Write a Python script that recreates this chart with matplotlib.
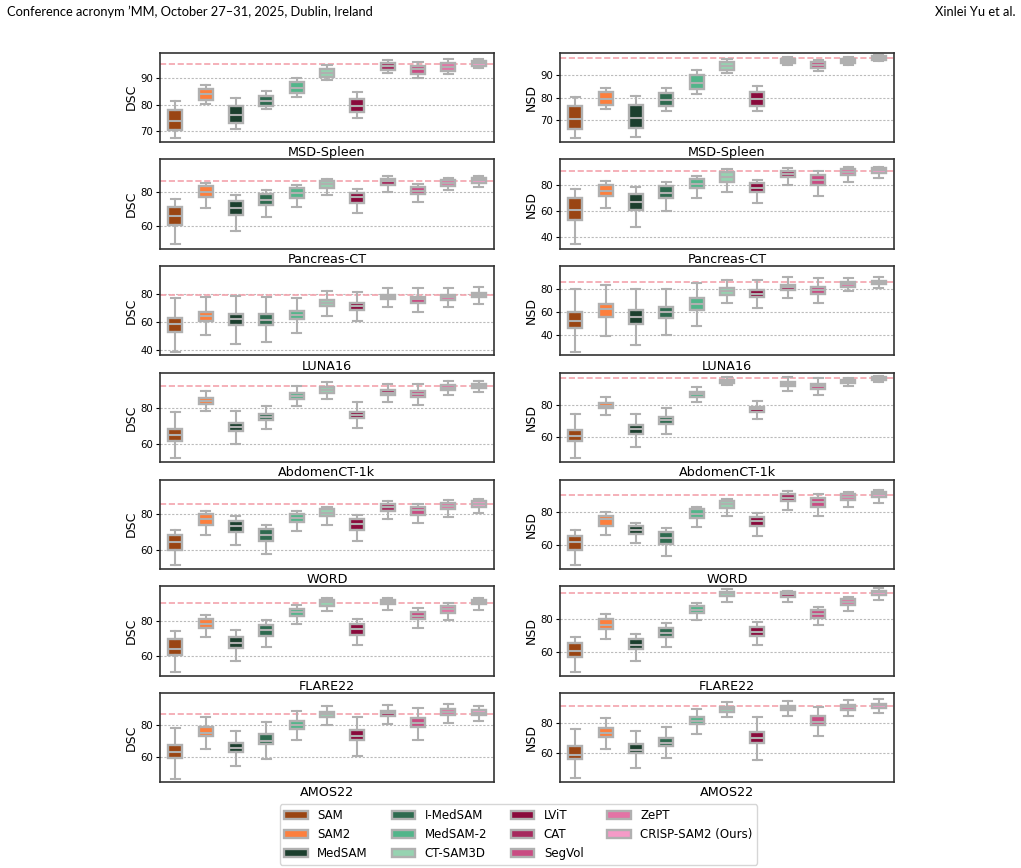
import matplotlib
matplotlib.use("Agg")
import matplotlib.pyplot as plt
from matplotlib.patches import Patch

# Methods and colours, left to right in every panel
METHODS = ["SAM", "SAM2", "MedSAM", "I-MedSAM", "MedSAM-2", "CT-SAM3D",
           "LViT", "CAT", "SegVol", "ZePT", "CRISP-SAM2 (Ours)"]
COLORS = ["#9a4513", "#fd7f3d", "#1c3f2e", "#2e6a4f", "#52b58a", "#96d3b1",
          "#8a0a3c", "#a62a5e", "#c94b82", "#e373a5", "#f59ac7"]

DATASETS = ["MSD-Spleen", "Pancreas-CT", "LUNA16", "AbdomenCT-1k", "WORD", "FLARE22", "AMOS22"]

# Box statistics per method: (whisker low, q1, median, q3, whisker high)
DSC_SPLEEN = [(67.6, 70.5, 74.0, 78.2, 81.4), (80.4, 81.8, 84.0, 86.0, 87.5),
              (70.8, 73.3, 76.0, 79.7, 82.5), (78.3, 79.7, 81.6, 83.5, 85.2),
              (83.1, 84.6, 86.5, 88.5, 90.3), (89.4, 90.5, 92.0, 93.6, 94.9),
              (75.0, 77.2, 79.6, 82.3, 84.7), (92.0, 93.3, 94.5, 95.7, 97.0),
              (90.1, 91.5, 93.4, 94.8, 96.2), (91.5, 92.6, 94.4, 95.9, 97.3),
              (93.9, 94.7, 95.7, 96.7, 97.3)]
DSC_PANCREAS = [(49.0, 60.8, 65.7, 71.6, 76.0), (71.0, 77.3, 80.4, 83.7, 85.7),
                (57.3, 66.7, 70.6, 75.1, 78.2), (65.3, 72.4, 75.3, 79.0, 81.6),
                (71.2, 76.9, 79.4, 82.7, 84.5), (78.4, 82.9, 84.9, 86.7, 88.0),
                (67.5, 73.9, 77.1, 79.6, 82.2), (80.4, 84.5, 86.7, 88.2, 89.6),
                (74.3, 78.8, 81.0, 83.3, 84.9), (81.2, 84.1, 85.9, 87.3, 88.6),
                (83.1, 85.7, 87.5, 88.6, 89.6)]
DSC_LUNA = [(38.3, 52.6, 58.3, 62.6, 76.7), (50.5, 60.7, 64.3, 67.1, 77.4),
            (44.3, 57.9, 62.4, 66.0, 78.8), (45.5, 57.9, 61.7, 65.5, 77.4),
            (52.1, 61.9, 64.8, 67.6, 76.9), (64.3, 71.0, 73.3, 75.5, 81.9),
            (60.7, 68.6, 71.0, 73.3, 81.4), (70.5, 76.0, 77.6, 79.3, 84.5),
            (67.1, 73.6, 76.0, 77.9, 84.0), (70.5, 75.7, 77.6, 79.5, 84.5),
            (72.6, 77.4, 79.3, 80.7, 85.0)]
DSC_ABDOMEN = [(51.8, 61.7, 64.9, 68.2, 77.6), (78.3, 82.4, 84.1, 85.6, 89.7),
               (60.0, 66.9, 69.3, 71.6, 78.3), (68.0, 73.3, 75.0, 76.6, 81.3),
               (81.3, 85.2, 86.7, 88.4, 92.3), (85.2, 88.6, 90.1, 91.6, 94.6),
               (68.8, 74.2, 76.3, 77.9, 83.2), (83.4, 87.1, 88.6, 89.9, 93.5),
               (81.9, 86.4, 88.0, 89.5, 93.5), (87.1, 90.1, 91.4, 92.7, 95.3),
               (89.2, 91.2, 92.3, 93.3, 95.1)]
DSC_WORD = [(51.3, 60.0, 64.5, 68.1, 71.3), (68.3, 74.3, 77.4, 80.0, 82.1),
            (62.6, 70.0, 73.2, 76.2, 78.9), (57.5, 65.1, 68.5, 71.9, 74.2),
            (70.6, 75.7, 78.1, 80.2, 82.1), (74.2, 78.9, 80.8, 82.8, 84.3),
            (64.9, 71.3, 74.5, 77.2, 79.4), (77.2, 81.7, 84.0, 85.8, 87.7),
            (74.9, 79.8, 82.5, 84.3, 85.8), (78.7, 82.8, 84.7, 86.6, 88.1),
            (80.6, 84.2, 86.0, 87.5, 88.7)]
DSC_FLARE = [(50.4, 60.2, 63.8, 69.4, 73.8), (70.4, 75.6, 78.1, 81.0, 83.3),
             (56.7, 64.4, 67.3, 70.8, 74.4), (64.8, 71.5, 74.8, 77.3, 80.4),
             (78.3, 82.9, 85.0, 86.7, 89.0), (85.4, 88.7, 90.6, 91.7, 93.1),
             (66.0, 71.7, 75.0, 77.9, 81.0), (86.3, 89.6, 91.0, 91.9, 93.1),
             (75.6, 80.8, 82.9, 85.2, 87.3), (80.4, 84.6, 86.7, 88.3, 90.4),
             (86.3, 89.4, 90.8, 91.7, 92.9)]
DSC_AMOS = [(46.8, 59.6, 63.1, 67.8, 78.4), (65.2, 73.0, 75.1, 78.6, 85.2),
            (54.6, 63.3, 65.6, 68.9, 76.1), (59.0, 68.2, 70.3, 74.2, 82.1),
            (70.7, 77.7, 80.2, 82.7, 88.7), (80.2, 84.9, 86.6, 88.0, 91.8),
            (61.0, 70.7, 73.2, 77.1, 84.7), (80.8, 85.8, 87.4, 88.9, 92.4),
            (70.5, 78.6, 81.0, 84.1, 90.5), (81.4, 86.4, 88.2, 89.7, 93.2),
            (82.5, 86.0, 87.6, 89.1, 92.0)]

NSD_SPLEEN = [(62.4, 66.2, 70.7, 76.3, 80.4), (74.8, 76.6, 79.2, 82.3, 84.3),
              (62.8, 66.5, 71.2, 76.6, 80.7), (73.9, 76.3, 78.8, 82.1, 84.3),
              (81.5, 83.7, 86.5, 89.9, 91.9), (90.9, 92.2, 93.8, 95.5, 96.9),
              (73.9, 76.3, 79.2, 82.4, 85.2), (94.4, 95.1, 96.1, 97.0, 97.6),
              (91.6, 92.8, 94.4, 95.5, 96.7), (94.1, 95.0, 96.1, 97.0, 97.7),
              (96.0, 96.7, 97.4, 98.2, 98.6)]
NSD_PANCREAS = [(35.0, 53.2, 60.8, 70.1, 76.7), (62.3, 71.9, 75.4, 80.5, 83.5),
                (47.8, 61.3, 66.8, 73.4, 78.5), (60.0, 70.1, 74.2, 79.5, 82.8),
                (69.9, 77.5, 81.0, 84.6, 87.3), (74.9, 82.5, 86.6, 89.9, 92.7),
                (66.6, 74.4, 77.5, 81.3, 84.3), (80.3, 86.3, 88.6, 91.1, 93.4),
                (71.9, 80.5, 83.8, 88.1, 91.1), (82.8, 87.6, 89.9, 92.2, 93.9),
                (85.3, 89.1, 91.4, 92.9, 94.2)]
NSD_LUNA = [(25.0, 45.5, 51.6, 59.5, 79.7), (39.4, 55.7, 62.7, 67.1, 83.2),
            (31.2, 49.0, 55.7, 61.6, 79.4), (40.2, 54.9, 59.5, 64.5, 79.4),
            (47.5, 61.6, 66.8, 71.8, 85.3), (67.4, 74.7, 77.7, 80.6, 87.6),
            (63.6, 72.7, 75.9, 78.8, 87.3), (72.1, 78.8, 81.5, 83.5, 89.9),
            (67.4, 75.9, 78.8, 81.5, 89.6), (77.7, 82.0, 83.8, 85.6, 89.6),
            (80.6, 83.8, 85.3, 87.0, 90.2)]
NSD_ABDOMEN = [(46.8, 57.5, 60.8, 64.5, 74.2), (73.6, 77.7, 79.2, 80.8, 84.5),
               (53.8, 61.9, 64.7, 67.2, 74.4), (62.1, 68.2, 70.5, 72.4, 77.7),
               (81.4, 84.9, 86.4, 87.8, 90.9), (92.0, 93.6, 94.4, 95.3, 96.9),
               (71.3, 75.7, 77.1, 78.6, 82.5), (88.2, 91.3, 92.8, 94.0, 96.9),
               (85.8, 89.9, 91.3, 92.8, 96.5), (91.5, 93.4, 94.2, 95.1, 96.5),
               (94.2, 95.5, 96.3, 96.9, 97.7)]
NSD_WORD = [(47.7, 56.8, 61.4, 65.3, 68.7), (65.7, 71.7, 75.4, 77.8, 79.8),
            (61.0, 66.7, 68.9, 71.5, 73.5), (52.9, 60.2, 64.4, 67.7, 70.1),
            (70.7, 76.2, 78.8, 81.6, 83.2), (77.4, 82.2, 84.6, 86.5, 87.9),
            (65.1, 71.5, 74.5, 77.2, 79.6), (81.0, 86.5, 88.7, 90.7, 92.9),
            (77.4, 83.2, 85.9, 88.7, 90.9), (83.0, 87.3, 89.3, 90.9, 92.3),
            (85.7, 88.9, 90.7, 91.9, 93.1)]
NSD_FLARE = [(47.8, 56.9, 60.6, 65.3, 69.0), (68.0, 74.1, 76.5, 80.0, 82.9),
             (54.1, 61.4, 64.1, 67.8, 70.8), (63.1, 69.2, 71.2, 74.7, 77.3),
             (79.4, 83.7, 85.5, 87.6, 89.6), (90.4, 93.7, 95.5, 96.5, 98.0),
             (63.9, 69.6, 72.0, 75.1, 77.8), (90.0, 93.5, 94.9, 96.1, 97.1),
             (76.1, 80.6, 82.7, 85.3, 87.3), (84.7, 88.6, 90.4, 91.8, 93.5),
             (91.4, 94.5, 96.1, 97.1, 98.6)]
NSD_AMOS = [(42.9, 55.8, 58.2, 64.4, 75.6), (62.4, 70.7, 73.1, 76.7, 83.3),
            (49.6, 59.8, 61.6, 66.0, 74.4), (56.7, 64.2, 66.7, 70.0, 76.9),
            (72.7, 78.9, 80.9, 83.8, 89.3), (83.8, 87.3, 89.3, 90.7, 93.8),
            (55.3, 66.2, 69.6, 74.0, 83.6), (84.4, 88.4, 89.8, 91.1, 94.4),
            (71.3, 78.7, 80.7, 84.2, 90.7), (84.2, 88.2, 90.2, 91.8, 94.9),
            (86.4, 90.0, 91.6, 92.7, 95.6)]

DSC_ALL = [DSC_SPLEEN, DSC_PANCREAS, DSC_LUNA, DSC_ABDOMEN, DSC_WORD, DSC_FLARE, DSC_AMOS]
NSD_ALL = [NSD_SPLEEN, NSD_PANCREAS, NSD_LUNA, NSD_ABDOMEN, NSD_WORD, NSD_FLARE, NSD_AMOS]

# dashed reference line (ours) per dataset
DSC_REF = [95.4, 87.1, 79.3, 92.3, 85.8, 90.4, 87.0]
NSD_REF = [97.2, 90.6, 85.6, 96.3, 90.5, 95.7, 90.9]

DSC_YMIN = [66.0, 46.5, 36.2, 49.7, 49.2, 48.5, 44.5]
NSD_YMIN = [60.5, 31.4, 22.1, 44.5, 45.3, 45.5, 40.2]
DSC_TICKS = [[70, 80, 90], [60, 80], [40, 60, 80], [60, 80], [60, 80], [60, 80], [60, 80]]
NSD_TICKS = [[70, 80, 90], [40, 60, 80], [40, 60, 80], [60, 80], [60, 80], [60, 80], [60, 80]]

EDGE = "#b0b0b0"


def draw_panel(ax, boxes, ref, ymin, ticks, metric, name):
    stats = [{"whislo": b[0], "q1": b[1], "med": b[2], "q3": b[3], "whishi": b[4], "fliers": []}
             for b in boxes]
    arts = ax.bxp(stats, positions=range(len(stats)), widths=0.46, capwidths=0.3,
                  patch_artist=True, showfliers=False,
                  boxprops=dict(edgecolor=EDGE, linewidth=1.7),
                  medianprops=dict(color=EDGE, linewidth=1.5),
                  whiskerprops=dict(color=EDGE, linewidth=1.5),
                  capprops=dict(color=EDGE, linewidth=1.5))
    for patch, c in zip(arts["boxes"], COLORS):
        patch.set_facecolor(c)
    ax.axhline(ref, color="#f4a3ad", linestyle="--", linewidth=1.2, zorder=1)
    ax.set_axisbelow(True)
    ax.yaxis.grid(True, linestyle=(0, (2, 1.5)), color="#bbbbbb", linewidth=0.8)
    ax.set_xlim(-0.5, len(stats) - 0.5)
    ax.set_ylim(ymin, 99.7)
    ax.set_xticks([])
    ax.set_yticks(ticks)
    ax.tick_params(axis="y", labelsize=7.3, length=3, width=0.8, pad=2)
    ax.set_ylabel(metric, fontsize=9, labelpad=2)
    ax.set_xlabel(name, fontsize=9.2, labelpad=3)
    for s in ax.spines.values():
        s.set_color("#333333")
        s.set_linewidth(1.2)


fig, axes = plt.subplots(7, 2, figsize=(10.21, 8.68), dpi=100)
fig.subplots_adjust(left=0.1567, right=0.8756, top=0.9393, bottom=0.0987,
                    wspace=0.198, hspace=0.196)

for i, name in enumerate(DATASETS):
    draw_panel(axes[i, 0], DSC_ALL[i], DSC_REF[i], DSC_YMIN[i], DSC_TICKS[i], "DSC", name)
    draw_panel(axes[i, 1], NSD_ALL[i], NSD_REF[i], NSD_YMIN[i], NSD_TICKS[i], "NSD", name)

handles = [Patch(facecolor=c, edgecolor=EDGE, linewidth=1.7, label=m)
           for m, c in zip(METHODS, COLORS)]
fig.legend(handles=handles, loc="upper left", bbox_to_anchor=(0.268, 0.080),
           ncol=4, fontsize=8.5, frameon=True, labelspacing=0.5, columnspacing=2.0)

fig.text(0.007, 0.986, "Conference acronym \u2019MM, October 27\u201331, 2025, Dublin, Ireland",
         fontsize=9.25, family="Lato", ha="left", va="center")
fig.text(0.995, 0.986, "Xinlei Yu et al.", fontsize=9.25, family="Lato", ha="right", va="center")

fig.savefig("out.png", dpi=100)
